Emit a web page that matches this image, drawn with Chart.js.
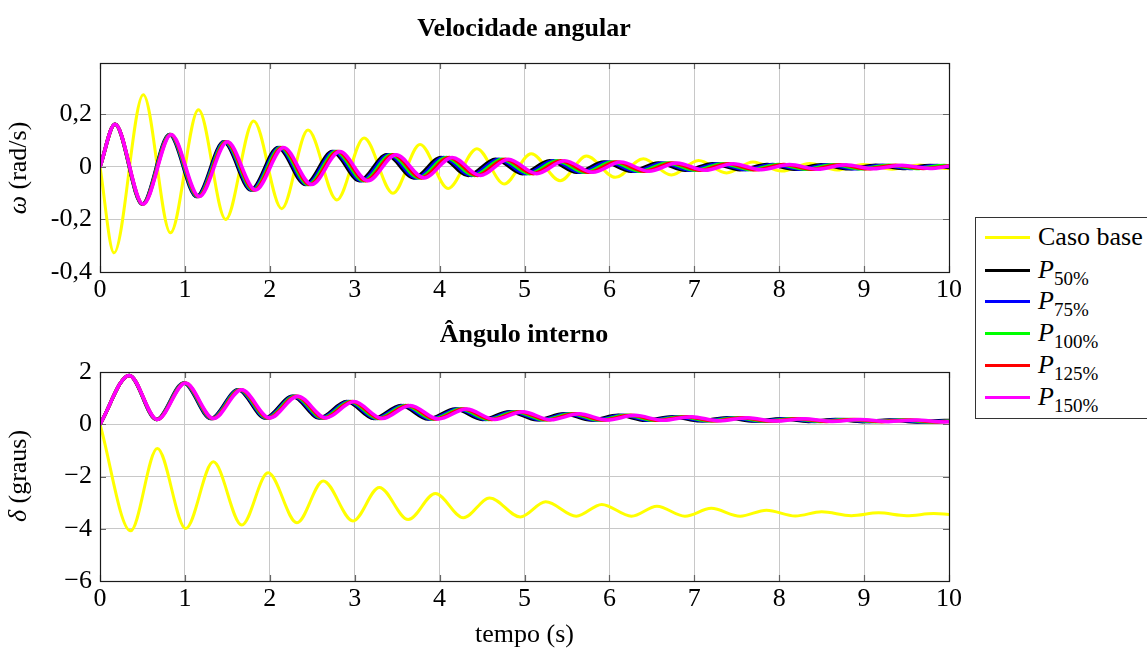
<!DOCTYPE html>
<html><head><meta charset="utf-8">
<script src="https://cdn.jsdelivr.net/npm/chart.js@4.4.1/dist/chart.umd.min.js"></script>
<style>
html,body{margin:0;padding:0;background:#fff;}
body{width:1147px;height:651px;overflow:hidden;position:relative;font-family:"Liberation Serif","Times New Roman",serif;color:#000;}
canvas{position:absolute;left:0;top:0;}
.ttl{position:absolute;transform:translate(-50%,-50%);font-weight:bold;font-size:26px;white-space:nowrap;}
.ylab{position:absolute;transform:translate(-50%,-50%) rotate(-90deg);font-size:26px;white-space:nowrap;}
#legend{position:absolute;left:975px;top:217px;width:230px;height:202px;border:1px solid #333;box-sizing:border-box;background:#fff;}
.item{position:absolute;left:9px;height:30px;display:flex;align-items:center;font-size:26px;white-space:nowrap;}
.sw{width:45px;height:3px;margin-right:8px;flex:none;}
sub{font-size:19px;vertical-align:-7px;line-height:0;}
</style></head><body>
<canvas id="c1" width="1147" height="651"></canvas>
<canvas id="c2" width="1147" height="651"></canvas>
<div class="ttl" style="left:524px;top:28px">Velocidade angular</div>
<div class="ttl" style="left:524px;top:334px">Ângulo interno</div>
<div class="ylab" style="left:18px;top:168px"><i>ω</i> (rad/s)</div>
<div class="ylab" style="left:18px;top:476px"><i>δ</i> (graus)</div>
<div id="legend"></div>
<script>
// ---------- DATA ----------
const seriesNames = ["Caso base", "P|50%", "P|75%", "P|100%", "P|125%", "P|150%"];
const seriesColors = ["#ffff00", "#000000", "#0000ff", "#00ff00", "#ff0000", "#ff00ff"];

const xTicks = [0,1,2,3,4,5,6,7,8,9,10];
const omegaTicks = [-0.4,-0.2,0,0.2];
const deltaTicks = [-6,-4,-2,0,2];

// Velocidade angular (rad/s)
const omegaBaseT = [0,0.165,0.51,0.83,1.16,1.48,1.81,2.14,2.45,2.79,3.11,3.45,3.77,4.10,4.44,4.76,5.08,5.42,5.73,6.07,6.40,6.73,7.05,7.38,7.69,8.03,8.36,8.68,8.99,9.33,9.65,9.98,10];
const omegaBaseV = [0,-0.327,0.274,-0.251,0.217,-0.200,0.174,-0.159,0.140,-0.126,0.110,-0.100,0.085,-0.082,0.069,-0.065,0.050,-0.053,0.041,-0.040,0.031,-0.031,0.024,-0.023,0.018,-0.016,0.013,-0.012,0.009,-0.009,0.007,-0.006,-0.006];

const omegaP50T = [0,0.177,0.497,0.817,1.137,1.457,1.777,2.097,2.417,2.737,3.057,3.377,3.697,4.017,4.337,4.657,4.977,5.297,5.617,5.937,6.257,6.577,6.897,7.217,7.537,7.857,8.177,8.497,8.817,9.137,9.457,9.777,10];
const omegaP50V = [0,0.162,-0.142,0.123,-0.113,0.095,-0.088,0.074,-0.067,0.058,-0.053,0.046,-0.042,0.036,-0.033,0.029,-0.026,0.023,-0.021,0.018,-0.017,0.015,-0.013,0.012,-0.011,0.009,-0.009,0.008,-0.007,0.006,-0.006,0.005,-0.003];

const omegaP75T = [0,0.177,0.500,0.823,1.145,1.468,1.791,2.114,2.436,2.759,3.082,3.405,3.727,4.050,4.373,4.696,5.018,5.341,5.664,5.987,6.309,6.632,6.955,7.278,7.600,7.923,8.246,8.569,8.891,9.214,9.537,9.860,10];
const omegaP75V = [0,0.162,-0.142,0.123,-0.113,0.095,-0.088,0.074,-0.067,0.058,-0.053,0.046,-0.042,0.036,-0.033,0.029,-0.026,0.023,-0.021,0.018,-0.017,0.015,-0.013,0.012,-0.011,0.009,-0.009,0.008,-0.007,0.006,-0.006,0.005,0.001];

const omegaP100T = [0,0.177,0.503,0.828,1.154,1.479,1.805,2.130,2.456,2.781,3.107,3.432,3.758,4.083,4.409,4.734,5.060,5.385,5.711,6.036,6.362,6.687,7.013,7.338,7.664,7.989,8.315,8.640,8.966,9.291,9.617,9.942,10];
const omegaP100V = [0,0.162,-0.142,0.123,-0.113,0.095,-0.088,0.074,-0.067,0.058,-0.053,0.046,-0.042,0.036,-0.033,0.029,-0.026,0.023,-0.021,0.018,-0.017,0.015,-0.013,0.012,-0.011,0.009,-0.009,0.008,-0.007,0.006,-0.006,0.005,0.004];

const omegaP125T = [0,0.177,0.505,0.834,1.162,1.490,1.818,2.147,2.475,2.803,3.131,3.460,3.788,4.116,4.444,4.773,5.101,5.429,5.757,6.086,6.414,6.742,7.070,7.399,7.727,8.055,8.383,8.712,9.040,9.368,9.696,10];
const omegaP125V = [0,0.162,-0.142,0.123,-0.113,0.095,-0.088,0.074,-0.067,0.058,-0.053,0.046,-0.042,0.036,-0.033,0.029,-0.026,0.023,-0.021,0.018,-0.017,0.015,-0.013,0.012,-0.011,0.009,-0.009,0.008,-0.007,0.006,-0.006,0.004];

const omegaP150T = [0,0.177,0.508,0.839,1.170,1.501,1.832,2.163,2.494,2.825,3.156,3.487,3.818,4.149,4.480,4.811,5.142,5.473,5.804,6.135,6.466,6.797,7.128,7.459,7.790,8.121,8.452,8.783,9.114,9.445,9.776,10];
const omegaP150V = [0,0.162,-0.142,0.123,-0.113,0.095,-0.088,0.074,-0.067,0.058,-0.053,0.046,-0.042,0.036,-0.033,0.029,-0.026,0.023,-0.021,0.018,-0.017,0.015,-0.013,0.012,-0.011,0.009,-0.009,0.008,-0.007,0.006,-0.006,0.002];

// Ângulo interno (graus)
const deltaBaseT = [0,0.36,0.675,1.01,1.335,1.67,1.98,2.32,2.63,2.98,3.29,3.63,3.95,4.28,4.59,4.95,5.25,5.61,5.91,6.26,6.56,6.89,7.20,7.54,7.85,8.19,8.50,8.85,9.17,9.50,9.82,10];
const deltaBaseV = [0,-4.08,-0.93,-3.99,-1.44,-3.86,-1.86,-3.77,-2.17,-3.70,-2.42,-3.65,-2.65,-3.58,-2.82,-3.55,-2.97,-3.52,-3.07,-3.52,-3.14,-3.52,-3.22,-3.52,-3.29,-3.51,-3.35,-3.50,-3.39,-3.50,-3.42,-3.45];

const deltaP50T = [0,0.345,0.665,0.985,1.305,1.625,1.945,2.265,2.585,2.905,3.225,3.545,3.865,4.185,4.505,4.825,5.145,5.465,5.785,6.105,6.425,6.745,7.065,7.385,7.705,8.025,8.345,8.665,8.985,9.305,9.625,9.945,10];
const deltaP50V = [0,1.87,0.18,1.58,0.22,1.32,0.24,1.07,0.24,0.87,0.22,0.72,0.20,0.58,0.18,0.48,0.17,0.40,0.16,0.34,0.15,0.29,0.13,0.25,0.12,0.21,0.11,0.18,0.10,0.16,0.09,0.14,0.14];

const deltaP75T = [0,0.345,0.668,0.991,1.313,1.636,1.959,2.282,2.604,2.927,3.250,3.573,3.895,4.218,4.541,4.864,5.186,5.509,5.832,6.155,6.477,6.800,7.123,7.446,7.768,8.091,8.414,8.737,9.059,9.382,9.705,10];
const deltaP75V = [0,1.87,0.18,1.58,0.22,1.32,0.24,1.07,0.24,0.87,0.22,0.72,0.20,0.58,0.18,0.48,0.17,0.40,0.16,0.34,0.15,0.29,0.13,0.25,0.12,0.21,0.11,0.18,0.10,0.16,0.09,0.135];

const deltaP100T = [0,0.345,0.671,0.996,1.322,1.647,1.973,2.298,2.624,2.949,3.275,3.600,3.926,4.251,4.577,4.902,5.228,5.553,5.879,6.204,6.530,6.855,7.181,7.506,7.832,8.157,8.483,8.808,9.134,9.459,9.785,10];
const deltaP100V = [0,1.87,0.18,1.58,0.22,1.32,0.24,1.07,0.24,0.87,0.22,0.72,0.20,0.58,0.18,0.48,0.17,0.40,0.16,0.34,0.15,0.29,0.13,0.25,0.12,0.21,0.11,0.18,0.10,0.16,0.09,0.12];

const deltaP125T = [0,0.345,0.673,1.002,1.330,1.658,1.986,2.315,2.643,2.971,3.299,3.628,3.956,4.284,4.612,4.941,5.269,5.597,5.925,6.254,6.582,6.910,7.238,7.567,7.895,8.223,8.551,8.880,9.208,9.536,9.864,10];
const deltaP125V = [0,1.87,0.18,1.58,0.22,1.32,0.24,1.07,0.24,0.87,0.22,0.72,0.20,0.58,0.18,0.48,0.17,0.40,0.16,0.34,0.15,0.29,0.13,0.25,0.12,0.21,0.11,0.18,0.10,0.16,0.09,0.11];

const deltaP150T = [0,0.345,0.676,1.007,1.338,1.669,2.000,2.331,2.662,2.993,3.324,3.655,3.986,4.317,4.648,4.979,5.310,5.641,5.972,6.303,6.634,6.965,7.296,7.627,7.958,8.289,8.620,8.951,9.282,9.613,9.944,10];
const deltaP150V = [0,1.87,0.18,1.58,0.22,1.32,0.24,1.07,0.24,0.87,0.22,0.72,0.20,0.58,0.18,0.48,0.17,0.40,0.16,0.34,0.15,0.29,0.13,0.25,0.12,0.21,0.11,0.18,0.10,0.16,0.09,0.095];

const omegaSeries = [[omegaBaseT,omegaBaseV],[omegaP50T,omegaP50V],[omegaP75T,omegaP75V],[omegaP100T,omegaP100V],[omegaP125T,omegaP125V],[omegaP150T,omegaP150V]];
const deltaSeries = [[deltaBaseT,deltaBaseV],[deltaP50T,deltaP50V],[deltaP75T,deltaP75V],[deltaP100T,deltaP100V],[deltaP125T,deltaP125V],[deltaP150T,deltaP150V]];

// ---------- RENDERING ----------
const FONT = "'Liberation Serif','Times New Roman',serif";
const PLOT_LEFT = 100, PLOT_RIGHT = 949;

function makeDatasets(series){
  return series.map((s,i)=>({
    label: seriesNames[i],
    data: s[0].map((t,j)=>({x:t,y:s[1][j]})),
    borderColor: seriesColors[i],
    backgroundColor: seriesColors[i],
    borderWidth: i===0 ? 3 : 3.5,
    pointRadius: 0,
    cubicInterpolationMode: 'monotone',
    fill: false,
    order: 5 - i
  }));
}

const framePlugin = {
  id: 'frame',
  beforeDatasetsDraw(chart){
    const {ctx, chartArea:a, scales:{x,y}} = chart;
    ctx.save();
    ctx.strokeStyle = '#666'; ctx.lineWidth = 1.2;
    ctx.beginPath();
    x.ticks.forEach(t=>{const px=Math.round(x.getPixelForValue(t.value))+0.5;
      ctx.moveTo(px,a.top); ctx.lineTo(px,a.top+6);
      ctx.moveTo(px,a.bottom); ctx.lineTo(px,a.bottom-6);});
    y.ticks.forEach(t=>{const py=Math.round(y.getPixelForValue(t.value))+0.5;
      ctx.moveTo(a.left,py); ctx.lineTo(a.left+6,py);
      ctx.moveTo(a.right,py); ctx.lineTo(a.right-6,py);});
    ctx.stroke();
    ctx.restore();
  },
  afterDatasetsDraw(chart){
    const {ctx, chartArea:a} = chart;
    ctx.save();
    ctx.strokeStyle = '#1a1a1a'; ctx.lineWidth = 1.2;
    ctx.strokeRect(Math.round(a.left)+0.5, Math.round(a.top)+0.5, Math.round(a.right-a.left), Math.round(a.bottom-a.top));
    ctx.restore();
  }
};

function makeChart(id, series, yMin, yMax, yTicks, fmt, top, bottom, xAxisH, xTitle){
  return new Chart(document.getElementById(id), {
    type: 'line',
    data: { datasets: makeDatasets(series) },
    options: {
      responsive: false, animation: false, devicePixelRatio: 1,
      layout: { padding: { left: 0, right: 1147 - PLOT_RIGHT, top: top, bottom: 651 - bottom - xAxisH } },
      plugins: { legend: { display: false }, tooltip: { enabled: false } },
      scales: {
        x: {
          type: 'linear', min: 0, max: 10,
          afterBuildTicks: s => { s.ticks = xTicks.map(v=>({value:v})); },
          afterFit: s => { s.height = xAxisH; },
          grid: { color: '#c8c8c8', lineWidth: 1, drawTicks: false },
          border: { display: false },
          ticks: { color: '#000', padding: 3, maxRotation: 0, autoSkip: false, font: { family: FONT, size: 26 },
                   callback: v => String(v) },
          title: xTitle ? { display: true, text: xTitle, color: '#000', padding: {top:0,bottom:0}, font: { family: FONT, size: 26 } } : { display: false }
        },
        y: {
          type: 'linear', min: yMin, max: yMax,
          afterBuildTicks: s => { s.ticks = yTicks.map(v=>({value:v})); },
          afterFit: s => { s.width = PLOT_LEFT; },
          grid: { color: '#c8c8c8', lineWidth: 1, drawTicks: false },
          border: { display: false },
          ticks: { color: '#000', padding: 8, autoSkip: false, font: { family: FONT, size: 26 }, callback: fmt }
        }
      }
    },
    plugins: [framePlugin]
  });
}

makeChart('c1', omegaSeries, -0.4, 0.395, omegaTicks,
  v => { const r = Math.round(v*10)/10; return r===0 ? '0' : r.toFixed(1).replace('.', ','); },
  63, 272, 40, null);
makeChart('c2', deltaSeries, -6, 2, deltaTicks,
  v => v < 0 ? '\u2212' + Math.abs(v) : String(v),
  372, 581, 70, 'tempo (s)');

// legend (HTML)
const legendTops = [4, 37, 68, 100, 132, 164];
const leg = document.getElementById('legend');
seriesNames.forEach((n,i)=>{
  const d = document.createElement('div');
  d.className = 'item'; d.style.top = legendTops[i] + 'px';
  const sw = document.createElement('span'); sw.className = 'sw'; sw.style.background = seriesColors[i];
  d.appendChild(sw);
  const lab = document.createElement('span');
  if (n.includes('|')) { const [b, s] = n.split('|'); lab.innerHTML = '<i>' + b + '</i><sub>' + s + '</sub>'; }
  else lab.textContent = n;
  d.appendChild(lab);
  leg.appendChild(d);
});
</script>
</body></html>
